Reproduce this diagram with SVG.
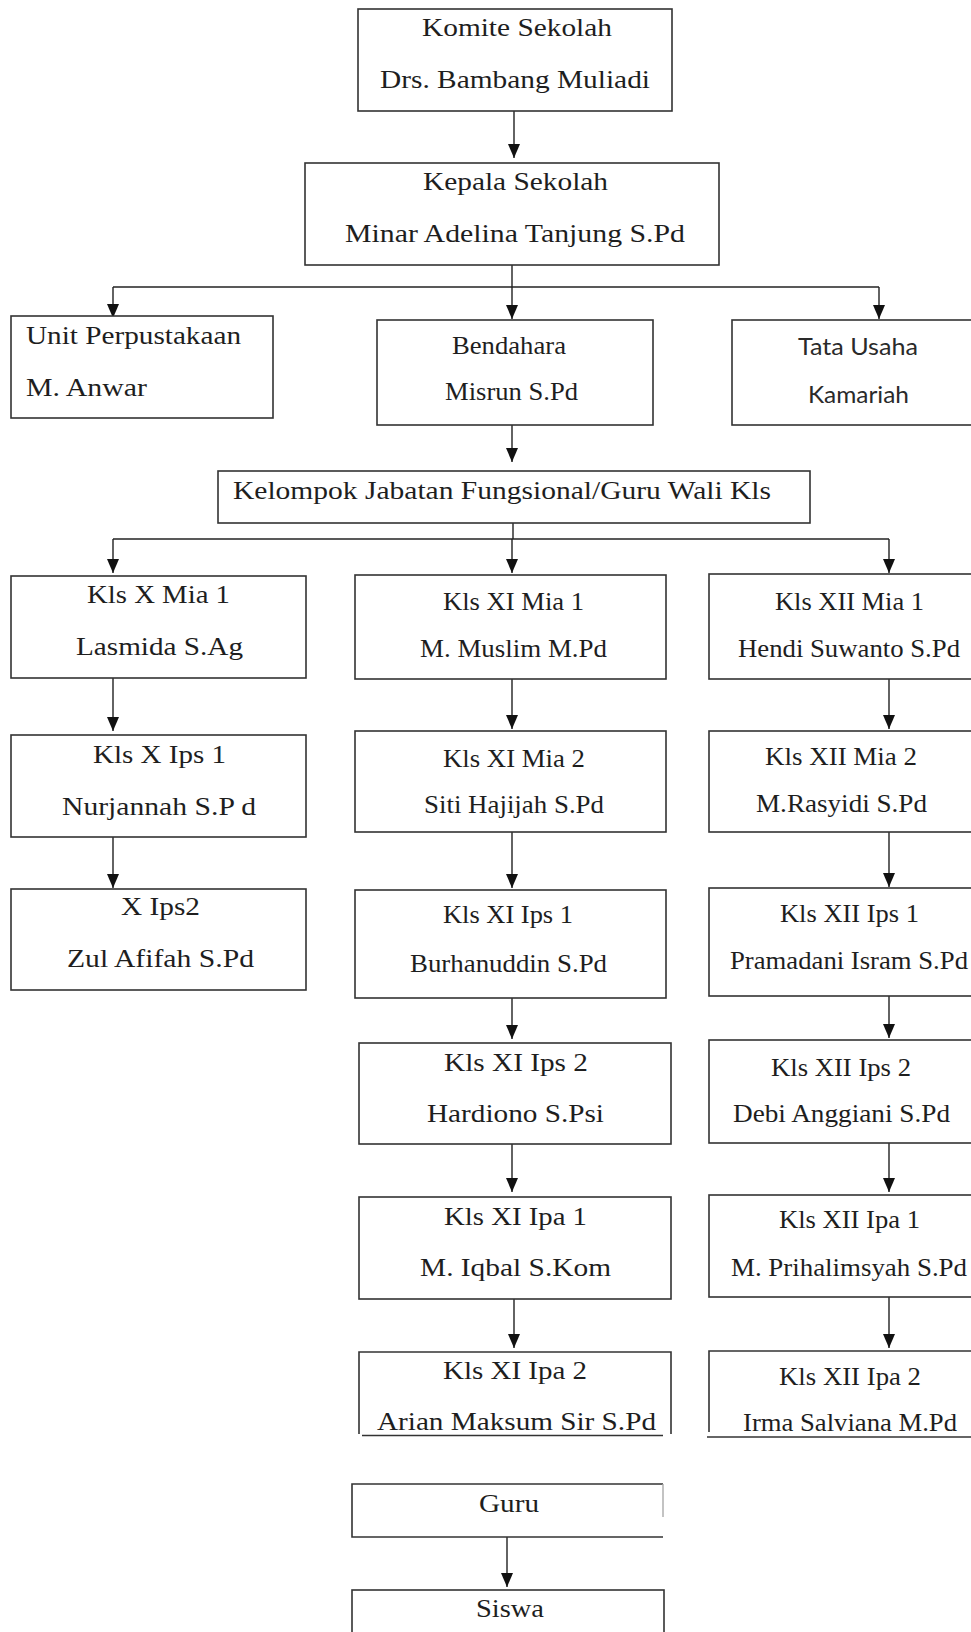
<svg xmlns="http://www.w3.org/2000/svg" width="971" height="1632" viewBox="0 0 971 1632">
<style>
.b{fill:#fff;stroke:#333;stroke-width:1.6}
.ln{fill:none;stroke:#333;stroke-width:1.6}
.c{fill:none;stroke:#222;stroke-width:1.4}
.ca{fill:none;stroke:#222;stroke-width:1.4;marker-end:url(#ah)}
.t{font-family:"Liberation Serif","Times New Roman",serif;font-size:26px;fill:#1e1e1e}
.s{font-family:Lato,"Liberation Sans",sans-serif;font-size:23px;fill:#2a2a2a}
</style>
<defs>
<marker id="ah" viewBox="0 0 14 12" refX="14" refY="6" markerWidth="14" markerHeight="12" markerUnits="userSpaceOnUse" orient="auto">
<path d="M0,0 L14,6 L0,12 z" fill="#111"/>
</marker>
</defs>
<rect width="971" height="1632" fill="#fff"/>

<g id="connectors">
<line class="ca" x1="514" y1="111" x2="514" y2="158"/>
<line class="c" x1="512" y1="265" x2="512" y2="287"/>
<line class="c" x1="113" y1="287" x2="879" y2="287"/>
<line class="ca" x1="113" y1="287" x2="113" y2="318"/>
<line class="ca" x1="512" y1="287" x2="512" y2="319"/>
<line class="ca" x1="879" y1="287" x2="879" y2="319"/>
<line class="ca" x1="512" y1="416" x2="512" y2="462"/>
<line class="c" x1="513" y1="523" x2="513" y2="539"/>
<line class="c" x1="113" y1="539" x2="889" y2="539"/>
<line class="ca" x1="113" y1="539" x2="113" y2="573"/>
<line class="ca" x1="512" y1="539" x2="512" y2="573"/>
<line class="ca" x1="889" y1="539" x2="889" y2="573"/>
<line class="ca" x1="113" y1="678" x2="113" y2="731"/>
<line class="ca" x1="113" y1="833" x2="113" y2="888"/>
<line class="ca" x1="512" y1="671" x2="512" y2="729"/>
<line class="ca" x1="512" y1="832" x2="512" y2="888"/>
<line class="ca" x1="512" y1="998" x2="512" y2="1039"/>
<line class="ca" x1="512" y1="1144" x2="512" y2="1192"/>
<line class="ca" x1="514" y1="1299" x2="514" y2="1348"/>
<line class="ca" x1="889" y1="671" x2="889" y2="729"/>
<line class="ca" x1="889" y1="824" x2="889" y2="887"/>
<line class="ca" x1="889" y1="990" x2="889" y2="1038"/>
<line class="ca" x1="889" y1="1143" x2="889" y2="1192"/>
<line class="ca" x1="889" y1="1297" x2="889" y2="1348"/>
<line class="ca" x1="507" y1="1537" x2="507" y2="1587"/>
</g>

<g id="komite">
<rect class="b" x="358" y="9" width="314" height="102"/>
<text class="t" x="422" y="36" font-size="25" textLength="190" lengthAdjust="spacingAndGlyphs">Komite Sekolah</text>
<text class="t" x="380" y="88" font-size="26" textLength="270" lengthAdjust="spacingAndGlyphs">Drs. Bambang Muliadi</text>
</g>

<g id="kepala">
<rect class="b" x="305" y="163" width="414" height="102"/>
<text class="t" x="423" y="190" textLength="185" lengthAdjust="spacingAndGlyphs">Kepala Sekolah</text>
<text class="t" x="345" y="242" textLength="340" lengthAdjust="spacingAndGlyphs">Minar Adelina Tanjung S.Pd</text>
</g>

<g id="unit">
<rect class="b" x="11" y="316" width="262" height="102"/>
<text class="t" x="26" y="344" font-size="27" textLength="215" lengthAdjust="spacingAndGlyphs">Unit Perpustakaan</text>
<text class="t" x="26" y="396" font-size="27" textLength="121" lengthAdjust="spacingAndGlyphs">M. Anwar</text>
</g>

<g id="bendahara">
<rect class="b" x="377" y="320" width="276" height="105"/>
<text class="t" x="452" y="354" font-size="25" textLength="114" lengthAdjust="spacingAndGlyphs">Bendahara</text>
<text class="t" x="445" y="400" font-size="25" textLength="133" lengthAdjust="spacingAndGlyphs">Misrun S.Pd</text>
</g>

<g id="tatausaha">
<rect class="b" x="732" y="320" width="245" height="105"/>
<text class="s" x="798" y="355" textLength="120" lengthAdjust="spacingAndGlyphs">Tata Usaha</text>
<text class="s" x="808" y="403" textLength="101" lengthAdjust="spacingAndGlyphs">Kamariah</text>
</g>

<g id="kelompok">
<rect class="b" x="218" y="471" width="592" height="52"/>
<text class="t" x="233" y="499" font-size="27" textLength="538" lengthAdjust="spacingAndGlyphs">Kelompok Jabatan Fungsional/Guru Wali Kls</text>
</g>

<g id="x-mia1">
<rect class="b" x="11" y="576" width="295" height="102"/>
<text class="t" x="87" y="603" textLength="143" lengthAdjust="spacingAndGlyphs">Kls X Mia 1</text>
<text class="t" x="76" y="655" textLength="167" lengthAdjust="spacingAndGlyphs">Lasmida S.Ag</text>
</g>
<g id="x-ips1">
<rect class="b" x="11" y="735" width="295" height="102"/>
<text class="t" x="93" y="763" textLength="133" lengthAdjust="spacingAndGlyphs">Kls X Ips 1</text>
<text class="t" x="62" y="815" textLength="194" lengthAdjust="spacingAndGlyphs">Nurjannah S.P d</text>
</g>
<g id="x-ips2">
<rect class="b" x="11" y="889" width="295" height="101"/>
<text class="t" x="121" y="915" textLength="79" lengthAdjust="spacingAndGlyphs">X Ips2</text>
<text class="t" x="67" y="967" textLength="187" lengthAdjust="spacingAndGlyphs">Zul Afifah S.Pd</text>
</g>

<g id="xi-mia1">
<rect class="b" x="355" y="575" width="311" height="104"/>
<text class="t" x="443" y="610" font-size="25" textLength="141" lengthAdjust="spacingAndGlyphs">Kls XI Mia 1</text>
<text class="t" x="420" y="657" font-size="25" textLength="187" lengthAdjust="spacingAndGlyphs">M. Muslim M.Pd</text>
</g>
<g id="xi-mia2">
<rect class="b" x="355" y="731" width="311" height="101"/>
<text class="t" x="443" y="767" font-size="25" textLength="142" lengthAdjust="spacingAndGlyphs">Kls XI Mia 2</text>
<text class="t" x="424" y="813" font-size="25" textLength="180" lengthAdjust="spacingAndGlyphs">Siti Hajijah S.Pd</text>
</g>
<g id="xi-ips1">
<rect class="b" x="355" y="890" width="311" height="108"/>
<text class="t" x="443" y="923" font-size="25" textLength="130" lengthAdjust="spacingAndGlyphs">Kls XI Ips 1</text>
<text class="t" x="410" y="972" font-size="25" textLength="197" lengthAdjust="spacingAndGlyphs">Burhanuddin S.Pd</text>
</g>
<g id="xi-ips2">
<rect class="b" x="359" y="1043" width="312" height="101"/>
<text class="t" x="444" y="1071" font-size="27" textLength="144" lengthAdjust="spacingAndGlyphs">Kls XI Ips 2</text>
<text class="t" x="427" y="1122" font-size="27" textLength="177" lengthAdjust="spacingAndGlyphs">Hardiono S.Psi</text>
</g>
<g id="xi-ipa1">
<rect class="b" x="359" y="1197" width="312" height="102"/>
<text class="t" x="444" y="1225" font-size="27" textLength="143" lengthAdjust="spacingAndGlyphs">Kls XI Ipa 1</text>
<text class="t" x="420" y="1276" font-size="27" textLength="191" lengthAdjust="spacingAndGlyphs">M. Iqbal S.Kom</text>
</g>
<g id="xi-ipa2">
<path class="ln" d="M359,1434 V1352 H671 V1434"/>
<line class="ln" x1="362" y1="1435.5" x2="663" y2="1435.5"/>
<text class="t" x="443" y="1379" font-size="27" textLength="144" lengthAdjust="spacingAndGlyphs">Kls XI Ipa 2</text>
<text class="t" x="377" y="1430" font-size="27" textLength="279" lengthAdjust="spacingAndGlyphs">Arian Maksum Sir S.Pd</text>
</g>

<g id="xii-mia1">
<rect class="b" x="709" y="574" width="264" height="105"/>
<text class="t" x="775" y="610" font-size="25" textLength="149" lengthAdjust="spacingAndGlyphs">Kls XII Mia 1</text>
<text class="t" x="738" y="657" font-size="25" textLength="222" lengthAdjust="spacingAndGlyphs">Hendi Suwanto S.Pd</text>
</g>
<g id="xii-mia2">
<rect class="b" x="709" y="731" width="264" height="101"/>
<text class="t" x="765" y="765" font-size="25" textLength="152" lengthAdjust="spacingAndGlyphs">Kls XII Mia 2</text>
<text class="t" x="756" y="812" font-size="25" textLength="171" lengthAdjust="spacingAndGlyphs">M.Rasyidi S.Pd</text>
</g>
<g id="xii-ips1">
<rect class="b" x="709" y="888" width="264" height="108"/>
<text class="t" x="780" y="922" font-size="25" textLength="139" lengthAdjust="spacingAndGlyphs">Kls XII Ips 1</text>
<text class="t" x="730" y="969" font-size="25" textLength="238" lengthAdjust="spacingAndGlyphs">Pramadani Isram S.Pd</text>
</g>
<g id="xii-ips2">
<rect class="b" x="709" y="1040" width="264" height="103"/>
<text class="t" x="771" y="1076" font-size="25" textLength="140" lengthAdjust="spacingAndGlyphs">Kls XII Ips 2</text>
<text class="t" x="733" y="1122" font-size="25" textLength="217" lengthAdjust="spacingAndGlyphs">Debi Anggiani S.Pd</text>
</g>
<g id="xii-ipa1">
<rect class="b" x="709" y="1195" width="264" height="102"/>
<text class="t" x="779" y="1228" font-size="25" textLength="141" lengthAdjust="spacingAndGlyphs">Kls XII Ipa 1</text>
<text class="t" x="731" y="1276" font-size="25" textLength="236" lengthAdjust="spacingAndGlyphs">M. Prihalimsyah S.Pd</text>
</g>
<g id="xii-ipa2">
<path class="ln" d="M709,1432 V1351 H973"/>
<line class="ln" x1="707" y1="1437" x2="973" y2="1437"/>
<text class="t" x="779" y="1385" font-size="25" textLength="142" lengthAdjust="spacingAndGlyphs">Kls XII Ipa 2</text>
<text class="t" x="743" y="1431" font-size="25" textLength="214" lengthAdjust="spacingAndGlyphs">Irma Salviana M.Pd</text>
</g>

<g id="guru">
<path class="ln" d="M663,1484 H352 V1537 H663"/>
<line x1="663" y1="1484" x2="663" y2="1517" stroke="#aaa" stroke-width="1.4"/>
<text class="t" x="479" y="1512" textLength="60" lengthAdjust="spacingAndGlyphs">Guru</text>
</g>

<g id="siswa">
<rect class="b" x="352" y="1590" width="312" height="60"/>
<text class="t" x="476" y="1617" textLength="68" lengthAdjust="spacingAndGlyphs">Siswa</text>
</g>
</svg>
